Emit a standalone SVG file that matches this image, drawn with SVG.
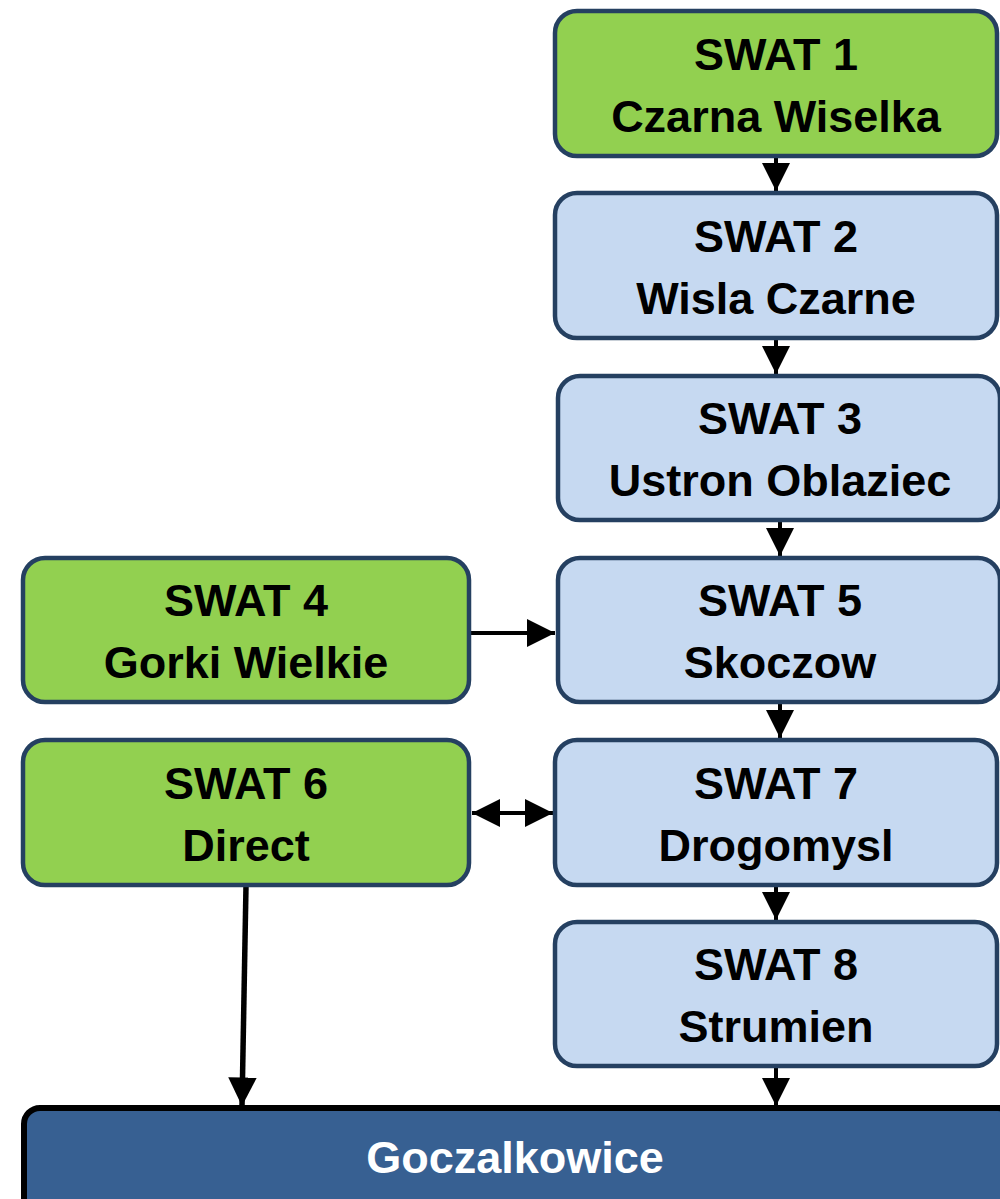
<svg xmlns="http://www.w3.org/2000/svg" width="1000" height="1199" viewBox="0 0 1000 1199">
<defs>
<style>
.g{fill:#92D050;stroke:#254061;stroke-width:4.5}
.b{fill:#C6D9F1;stroke:#254061;stroke-width:4.5}
.t{font-family:"Liberation Sans",Arial,sans-serif;font-weight:bold;font-size:45px;fill:#000;text-anchor:middle}
.w{fill:#fff}
.c{stroke:#000;stroke-width:4;fill:none}
</style>
<marker id="ah" viewBox="0 0 10 10" refX="10" refY="5" markerWidth="7" markerHeight="7" markerUnits="strokeWidth" orient="auto-start-reverse">
<path d="M0,0 L10,5 L0,10 Z" fill="#000"/>
</marker>
<marker id="ah2" viewBox="0 0 10 10" refX="10" refY="5" markerWidth="5.2" markerHeight="5.2" markerUnits="strokeWidth" orient="auto">
<path d="M0,0 L10,5 L0,10 Z" fill="#000"/>
</marker>
</defs>
<rect width="1000" height="1199" fill="#fff"/>
<g id="connectors">
<line class="c" x1="776" y1="157" x2="776" y2="191" marker-end="url(#ah)"/>
<line class="c" x1="776" y1="339" x2="776" y2="374" marker-end="url(#ah)"/>
<line class="c" x1="780" y1="521" x2="780" y2="556" marker-end="url(#ah)"/>
<line class="c" x1="471" y1="633" x2="555" y2="633" marker-end="url(#ah)"/>
<line class="c" x1="780" y1="703" x2="780" y2="738" marker-end="url(#ah)"/>
<line class="c" x1="472" y1="813" x2="553" y2="813" marker-start="url(#ah)" marker-end="url(#ah)"/>
<line class="c" x1="776" y1="886" x2="776" y2="920" marker-end="url(#ah)"/>
<line class="c" x1="776" y1="1068" x2="776" y2="1106" marker-end="url(#ah)"/>
<line x1="246" y1="886" x2="242" y2="1106" stroke="#000" stroke-width="5.5" marker-end="url(#ah2)"/>
</g>
<g id="n1"><rect class="g" x="555" y="11" width="442" height="145" rx="22"/><text class="t" x="776" y="70">SWAT 1</text><text class="t" x="776" y="132">Czarna Wiselka</text></g>
<g id="n2"><rect class="b" x="555" y="193" width="442" height="145" rx="22"/><text class="t" x="776" y="252">SWAT 2</text><text class="t" x="776" y="314">Wisla Czarne</text></g>
<g id="n3"><rect class="b" x="558" y="376" width="442" height="144" rx="22"/><text class="t" x="780" y="434">SWAT 3</text><text class="t" x="780" y="496">Ustron Oblaziec</text></g>
<g id="n4"><rect class="g" x="23" y="558" width="446" height="144" rx="22"/><text class="t" x="246" y="616">SWAT 4</text><text class="t" x="246" y="678">Gorki Wielkie</text></g>
<g id="n5"><rect class="b" x="558" y="558" width="442" height="144" rx="22"/><text class="t" x="780" y="616">SWAT 5</text><text class="t" x="780" y="678">Skoczow</text></g>
<g id="n6"><rect class="g" x="23" y="740" width="446" height="145" rx="22"/><text class="t" x="246" y="799">SWAT 6</text><text class="t" x="246" y="861">Direct</text></g>
<g id="n7"><rect class="b" x="555" y="740" width="442" height="145" rx="22"/><text class="t" x="776" y="799">SWAT 7</text><text class="t" x="776" y="861">Drogomysl</text></g>
<g id="n8"><rect class="b" x="555" y="922" width="442" height="144" rx="22"/><text class="t" x="776" y="980">SWAT 8</text><text class="t" x="776" y="1042">Strumien</text></g>
<g id="n9"><rect x="24" y="1108" width="990" height="120" rx="16" fill="#376092" stroke="#000" stroke-width="6"/><text class="t w" x="515" y="1173">Goczalkowice</text></g>
</svg>
